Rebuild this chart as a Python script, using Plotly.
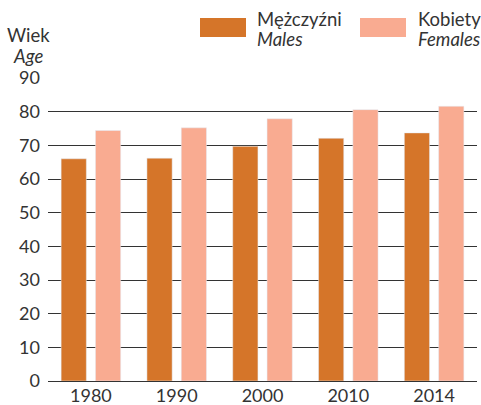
import plotly.graph_objects as go

# dane: przeciętne dalsze trwanie życia (lata)
years = ["1980", "1990", "2000", "2010", "2014"]
males = [66.0, 66.2, 69.7, 72.1, 73.7]
females = [74.4, 75.2, 77.9, 80.6, 81.6]
y_ticks = [0, 10, 20, 30, 40, 50, 60, 70, 80, 90]

MALE_COLOR = "#D57529"
FEMALE_COLOR = "#F9AB91"
TEXT_COLOR = "#333333"
FONT = "Lato, 'Open Sans', sans-serif"
FS = 18.5

fig = go.Figure()
fig.add_trace(go.Bar(x=years, y=males, name="Mężczyźni", marker_color=MALE_COLOR, showlegend=False))
fig.add_trace(go.Bar(x=years, y=females, name="Kobiety", marker_color=FEMALE_COLOR, showlegend=False))

# legenda rysowana ręcznie (duże prostokąty)
legend_items = [
    (200, 255, "Mężczyźni", "Males", MALE_COLOR),
    (360, 416, "Kobiety", "Females", FEMALE_COLOR),
]
W, H = 481, 405
for sx, tx, pl, en, col in legend_items:
    fig.add_shape(
        type="rect", xref="paper", yref="paper",
        x0=(sx - 48) / 429, x1=(sx + 46 - 48) / 429,
        y0=(381 - 37) / 303, y1=(381 - 18) / 303,
        fillcolor=col, line_width=0,
    )
    fig.add_annotation(
        xref="paper", yref="paper", x=(tx - 48) / 429, y=(381 - 6) / 303,
        text=pl, showarrow=False, xanchor="left", yanchor="top",
        font=dict(size=FS, color=TEXT_COLOR, family=FONT),
    )
    fig.add_annotation(
        xref="paper", yref="paper", x=(tx - 48) / 429, y=(381 - 26) / 303,
        text=f"<i>{en}</i>", showarrow=False, xanchor="left", yanchor="top",
        font=dict(size=FS, color=TEXT_COLOR, family=FONT),
    )

# tytuł osi Y
fig.add_annotation(
    xref="paper", yref="paper", x=(28 - 48) / 429, y=(381 - 22) / 303,
    text="Wiek", showarrow=False, xanchor="center", yanchor="top",
    font=dict(size=FS, color=TEXT_COLOR, family=FONT),
)
fig.add_annotation(
    xref="paper", yref="paper", x=(28 - 48) / 429, y=(381 - 43) / 303,
    text="<i>Age</i>", showarrow=False, xanchor="center", yanchor="top",
    font=dict(size=FS, color=TEXT_COLOR, family=FONT),
)

fig.update_layout(
    width=W, height=H,
    margin=dict(l=48, r=4, t=78, b=24),
    barmode="group", bargap=0.2, bargroupgap=0.265,
    plot_bgcolor="white", paper_bgcolor="white",
    font=dict(family=FONT, size=FS, color=TEXT_COLOR),
)
fig.update_xaxes(
    showgrid=False, showline=False, ticks="", tickfont=dict(size=18),
    automargin=False, ticklabelstandoff=2,
)
fig.update_yaxes(
    range=[0, 90], tickvals=y_ticks, showgrid=True, gridcolor="#333333", gridwidth=1,
    zeroline=True, zerolinecolor="#333333", zerolinewidth=1, automargin=False,
    ticks="", ticklabelstandoff=7, tickfont=dict(size=18),
)

fig.write_html(
    "out.html",
    config={"displayModeBar": False},
    post_script="document.body.style.margin='0';document.body.style.overflow='hidden';",
)
